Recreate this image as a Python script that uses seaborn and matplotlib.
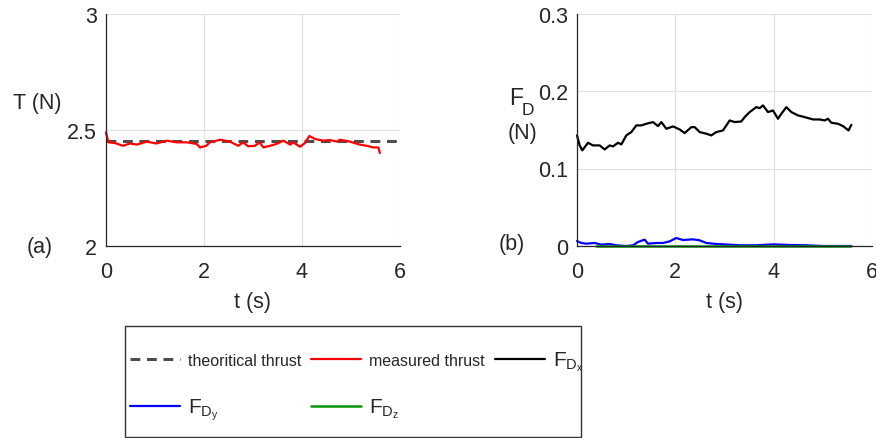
import matplotlib
matplotlib.use("Agg")
import matplotlib.pyplot as plt
from matplotlib.patches import Rectangle
import seaborn as sns

# ---------------- data ----------------
thr_t = [0.0, 6.0]
thr_v = [2.45, 2.45]

meas_t = [0.00, 0.05, 0.18, 0.35, 0.49, 0.63, 0.83, 1.03, 1.24, 1.44, 1.65, 1.85, 1.92,
          2.05, 2.12, 2.33, 2.53, 2.70, 2.80, 2.90, 3.04, 3.14, 3.21, 3.35, 3.48, 3.62,
          3.76, 3.82, 3.96, 4.06, 4.15, 4.27, 4.44, 4.57, 4.71, 4.78, 4.98, 5.18, 5.32,
          5.46, 5.56, 5.59]
meas_v = [2.489, 2.446, 2.443, 2.431, 2.441, 2.436, 2.449, 2.441, 2.453, 2.446, 2.446,
          2.439, 2.424, 2.431, 2.446, 2.457, 2.449, 2.431, 2.446, 2.429, 2.431, 2.446,
          2.424, 2.431, 2.439, 2.453, 2.436, 2.446, 2.427, 2.443, 2.473, 2.460, 2.453,
          2.456, 2.449, 2.457, 2.449, 2.436, 2.431, 2.424, 2.424, 2.400]

fdx_t = [0.000, 0.054, 0.108, 0.224, 0.325, 0.461, 0.563, 0.664, 0.732, 0.834, 0.902,
         1.003, 1.105, 1.207, 1.308, 1.410, 1.546, 1.647, 1.715, 1.817, 1.953, 2.088,
         2.190, 2.325, 2.393, 2.495, 2.631, 2.732, 2.834, 2.969, 3.105, 3.207, 3.342,
         3.410, 3.512, 3.647, 3.715, 3.783, 3.885, 3.986, 4.088, 4.156, 4.258, 4.359,
         4.495, 4.631, 4.800, 4.936, 5.037, 5.105, 5.173, 5.308, 5.410, 5.522, 5.580]
fdx_v = [0.1427, 0.1298, 0.1234, 0.1332, 0.1298, 0.1298, 0.1246, 0.1298, 0.1285, 0.1332,
         0.1311, 0.1427, 0.1470, 0.1556, 0.1556, 0.1577, 0.1599, 0.1547, 0.1599, 0.1513,
         0.1543, 0.1504, 0.1457, 0.1534, 0.1534, 0.1470, 0.1449, 0.1427, 0.1470, 0.1491,
         0.1620, 0.1599, 0.1607, 0.1663, 0.1728, 0.1792, 0.1779, 0.1814, 0.1728, 0.1749,
         0.1642, 0.1706, 0.1792, 0.1728, 0.1685, 0.1663, 0.1633, 0.1633, 0.1620, 0.1642,
         0.1590, 0.1577, 0.1547, 0.1491, 0.1564]

fdy_t = [0.0, 0.088, 0.19, 0.36, 0.495, 0.664, 0.80, 1.00, 1.14, 1.24, 1.376, 1.444,
         1.614, 1.75, 1.885, 2.02, 2.156, 2.36, 2.495, 2.63, 2.834, 3.105, 3.308, 3.647,
         3.986, 4.325, 4.664, 5.00, 5.58]
fdy_v = [0.0064, 0.0039, 0.0030, 0.0039, 0.0017, 0.0026, 0.0009, 0.0000, 0.0009, 0.0052,
         0.0082, 0.0030, 0.0039, 0.0039, 0.0060, 0.0103, 0.0077, 0.0086, 0.0073, 0.0039,
         0.0026, 0.0017, 0.0009, 0.0009, 0.0021, 0.0013, 0.0009, 0.0000, 0.0000]

fdz_t = [0.39, 1.0, 2.0, 3.0, 4.0, 5.0, 5.58]
fdz_v = [0.0004, 0.0004, 0.0004, 0.0004, 0.0004, 0.0004, 0.0004]

xticks = [0, 2, 4, 6]
yticks_a = [2, 2.5, 3]
yticks_b = [0, 0.1, 0.2, 0.3]

legend_labels = ["theoritical thrust", "measured thrust",
                 r"$\mathrm{F_{D_x}}$", r"$\mathrm{F_{D_y}}$", r"$\mathrm{F_{D_z}}$"]

# ---------------- style ----------------
sns.set_theme(style="whitegrid")
plt.rcParams["font.family"] = ["Liberation Sans", "DejaVu Sans"]
plt.rcParams["mathtext.fontset"] = "custom"
plt.rcParams["mathtext.rm"] = "Liberation Sans"
plt.rcParams["mathtext.it"] = "Liberation Sans"

W, H = 876, 439
fig = plt.figure(figsize=(W / 100, H / 100), dpi=100)
fig.patch.set_facecolor("white")

ax1 = fig.add_axes([106 / W, 1 - 247 / H, 294 / W, 232.5 / H])
ax2 = fig.add_axes([577 / W, 1 - 247 / H, 295 / W, 232.5 / H])

c_thr = "#4d4d4d"
c_red = "#ff0000"
c_blk = "#000000"
c_blu = "#0000ff"
c_grn = "#0a960a"
txt = "#262626"

sns.lineplot(x=thr_t, y=thr_v, ax=ax1, color=c_thr, lw=2.2, linestyle=(0, (3.2, 2.2)),
             estimator=None, sort=False, label=legend_labels[0], legend=False)
sns.lineplot(x=meas_t, y=meas_v, ax=ax1, color=c_red, lw=1.6,
             estimator=None, sort=False, label=legend_labels[1], legend=False)

sns.lineplot(x=fdx_t, y=fdx_v, ax=ax2, color=c_blk, lw=1.6,
             estimator=None, sort=False, label=legend_labels[2], legend=False)
sns.lineplot(x=fdy_t, y=fdy_v, ax=ax2, color=c_blu, lw=1.6,
             estimator=None, sort=False, label=legend_labels[3], legend=False)
sns.lineplot(x=fdz_t, y=fdz_v, ax=ax2, color=c_grn, lw=1.8,
             estimator=None, sort=False, label=legend_labels[4], legend=False)

fs = 15.5
for ax, yt in ((ax1, yticks_a), (ax2, yticks_b)):
    ax.set_facecolor("white")
    ax.set_xlim(0, 6)
    ax.set_ylim(yt[0], yt[-1])
    ax.set_xticks(xticks)
    ax.set_yticks(yt)
    ax.set_yticklabels([f"{v:g}" for v in yt])
    ax.grid(True, color="#e0e0e0", lw=0.8)
    for s in ("top", "right"):
        ax.spines[s].set_visible(False)
    for s in ("left", "bottom"):
        ax.spines[s].set_visible(True)
        ax.spines[s].set_color(txt)
        ax.spines[s].set_linewidth(0.9)
    ax.tick_params(axis="both", direction="in", length=4, width=0.8, color=txt,
                   labelsize=fs, labelcolor=txt)
    ax.tick_params(axis="x", pad=11)
    ax.tick_params(axis="y", pad=6.5)
    for ln in ax.get_lines():
        ln.set_clip_on(False)
    ax.set_xlabel("t (s)", fontsize=fs, color=txt)
    ax.xaxis.set_label_coords(0.5, -0.195)
    ax.set_ylabel("")

fig.text(13 / W, 1 - 103 / H, "T (N)", fontsize=fs, color=txt, va="center", ha="left")
fig.text(27 / W, 1 - 247 / H, "(a)", fontsize=fs, color=txt, va="center", ha="left")
fig.text(499 / W, 1 - 245 / H, "(b)", fontsize=fs, color=txt, va="center", ha="left")
fig.text(509 / W, 1 - 105 / H, "F", fontsize=fs + 1, color=txt, va="baseline", ha="left")
fig.text(522 / W, 1 - 115 / H, "D", fontsize=fs - 3, color=txt, va="baseline", ha="left")
fig.text(508 / W, 1 - 134 / H, "(N)", fontsize=fs, color=txt, va="center", ha="left")

# legend frame
fig.add_artist(Rectangle((125 / W, 1 - 438 / H), 456 / W, 111 / H, transform=fig.transFigure,
                         fill=True, facecolor="white", edgecolor="#333333", lw=1.0))

h = ax1.get_lines()[:2] + ax2.get_lines()[:3]
# row-major order for a 3-column legend (matplotlib fills columns first)
order = [0, 3, 1, 4, 2]
handles = [h[i] for i in order]
labels = [legend_labels[i] for i in order]
leg = fig.legend(handles, labels, ncol=3, loc="upper left",
                 bbox_to_anchor=(130 / W, 1 - 350 / H),
                 frameon=False,
                 prop={"family": ["Liberation Sans"], "size": 11.5},
                 handlelength=3.13, handletextpad=0.5, borderpad=0,
                 labelspacing=1.75, columnspacing=0.63, borderaxespad=0)
for t, lab in zip(leg.get_texts(), labels):
    t.set_color(txt)
    if lab.startswith("$"):
        t.set_fontsize(15)

fig.savefig("out.png", dpi=100, facecolor="white")
